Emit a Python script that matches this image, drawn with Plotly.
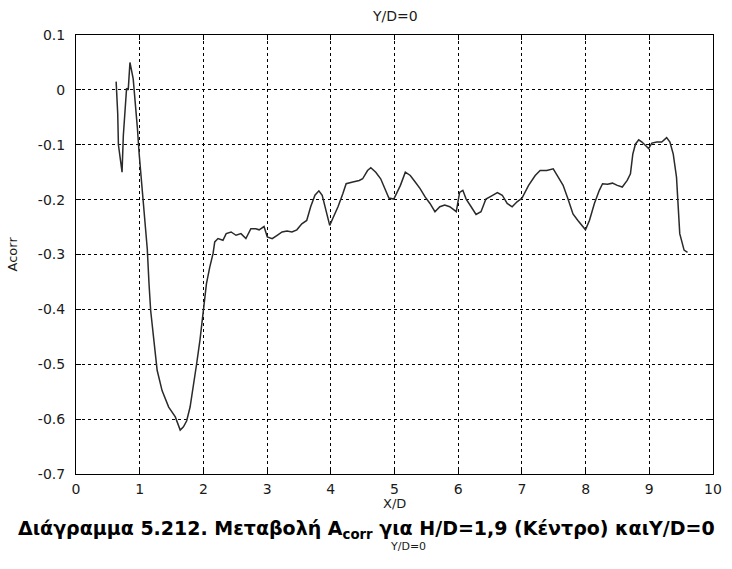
import plotly.graph_objects as go

# Measured correlation coefficient along the centreline (Y/D = 0)
x_d = [0.63, 0.655, 0.666, 0.723, 0.743, 0.785, 0.794, 0.82, 0.847, 0.898, 0.94, 0.964,
       0.991, 1.042, 1.084, 1.119, 1.146, 1.172, 1.223, 1.274, 1.351, 1.455, 1.559,
       1.636, 1.687, 1.738, 1.791, 1.842, 1.893, 1.946, 1.997, 2.048, 2.10, 2.152,
       2.178, 2.229, 2.307, 2.358, 2.435, 2.512, 2.59, 2.667, 2.745, 2.822, 2.875,
       2.952, 3.003, 3.08, 3.158, 3.235, 3.313, 3.39, 3.467, 3.545, 3.622, 3.684,
       3.751, 3.813, 3.865, 3.906, 3.958, 3.983, 4.036, 4.113, 4.19, 4.241, 4.345,
       4.447, 4.5, 4.577, 4.628, 4.706, 4.783, 4.861, 4.912, 4.989, 5.042, 5.093,
       5.17, 5.248, 5.325, 5.402, 5.48, 5.557, 5.635, 5.712, 5.789, 5.867, 5.97,
       6.022, 6.073, 6.125, 6.203, 6.28, 6.358, 6.435, 6.512, 6.615, 6.692, 6.769,
       6.847, 6.924, 7.002, 7.105, 7.209, 7.286, 7.389, 7.492, 7.57, 7.647, 7.724,
       7.802, 7.879, 7.957, 7.998, 8.06, 8.138, 8.215, 8.266, 8.344, 8.421, 8.498,
       8.576, 8.653, 8.704, 8.741, 8.782, 8.834, 8.885, 8.937, 8.989, 9.04, 9.118,
       9.195, 9.272, 9.324, 9.376, 9.427, 9.454, 9.478, 9.546, 9.6]
a_corr = [0.015, -0.043, -0.10, -0.15, -0.083, -0.025, 0.003, 0.0, 0.05, 0.02, -0.03, -0.07,
          -0.116, -0.19, -0.238, -0.29, -0.353, -0.402, -0.457, -0.511, -0.548, -0.578, -0.596,
          -0.62, -0.614, -0.603, -0.578, -0.542, -0.50, -0.456, -0.402, -0.353, -0.323, -0.298,
          -0.277, -0.271, -0.274, -0.262, -0.259, -0.265, -0.262, -0.271, -0.253, -0.253, -0.255,
          -0.249, -0.268, -0.271, -0.265, -0.259, -0.257, -0.259, -0.255, -0.244, -0.238, -0.213,
          -0.192, -0.184, -0.192, -0.213, -0.238, -0.247, -0.233, -0.213, -0.189, -0.171, -0.168,
          -0.165, -0.162, -0.147, -0.142, -0.15, -0.162, -0.183, -0.197, -0.199, -0.187, -0.174,
          -0.15, -0.156, -0.168, -0.18, -0.195, -0.207, -0.222, -0.213, -0.21, -0.213, -0.222,
          -0.187, -0.183, -0.199, -0.213, -0.227, -0.222, -0.199, -0.194, -0.187, -0.192, -0.207,
          -0.213, -0.204, -0.197, -0.174, -0.156, -0.147, -0.147, -0.144, -0.159, -0.174, -0.199,
          -0.226, -0.238, -0.25, -0.255, -0.238, -0.207, -0.183, -0.171, -0.172, -0.17, -0.174,
          -0.177, -0.165, -0.153, -0.117, -0.099, -0.091, -0.095, -0.101, -0.107, -0.097, -0.095,
          -0.095, -0.087, -0.095, -0.117, -0.159, -0.207, -0.262, -0.292, -0.296]

x_ticks = [0, 1, 2, 3, 4, 5, 6, 7, 8, 9, 10]
y_ticks = [0.1, 0, -0.1, -0.2, -0.3, -0.4, -0.5, -0.6, -0.7]
y_tick_text = ["0.1", "0", "-0.1", "-0.2", "-0.3", "-0.4", "-0.5", "-0.6", "-0.7"]

title_text = "Y/D=0"
x_label = "X/D"
y_label = "Acorr"
caption = "Διάγραμμα 5.212. Μεταβολή A<sub>corr</sub> για H/D=1,9 (Κέντρο) καιY/D=0"
sub_caption = "Y/D=0"

font_family = "DejaVu Sans, Liberation Sans, Arial, sans-serif"
ink = "#1a1a1a"

fig = go.Figure()
fig.add_trace(go.Scatter(
    x=x_d, y=a_corr, mode="lines",
    line=dict(color="#2a2a2a", width=1.5),
    showlegend=False, hoverinfo="skip",
))

axis_common = dict(
    showline=True, linecolor="black", linewidth=1, mirror="ticks",
    ticks="inside", ticklen=5, tickcolor="black",
    showgrid=True, gridcolor="black", gridwidth=1, griddash="3px,3px",
    zeroline=False,
    tickfont=dict(family=font_family, size=14, color=ink),
)

fig.update_xaxes(range=[0, 10], tickvals=x_ticks, ticktext=[str(t) for t in x_ticks],
                 ticklabelstandoff=2, **axis_common)
fig.update_yaxes(range=[-0.7, 0.1], tickvals=y_ticks, ticktext=y_tick_text,
                 ticklabelstandoff=7, **axis_common)

fig.update_layout(
    width=732, height=569,
    margin=dict(l=76, r=10, t=35, b=95),
    paper_bgcolor="white", plot_bgcolor="white",
    font=dict(family=font_family, color=ink),
    annotations=[
        dict(text=title_text, xref="paper", yref="paper", x=0.5, y=1.0, yshift=9,
             xanchor="center", yanchor="bottom", showarrow=False,
             font=dict(family=font_family, size=14, color=ink)),
        dict(text=x_label, xref="paper", yref="paper", x=0.5, y=0, yshift=-29,
             xanchor="center", yanchor="middle", showarrow=False,
             font=dict(family=font_family, size=13, color=ink)),
        dict(text=y_label, xref="paper", yref="paper", x=0, xshift=-64, y=0.5,
             xanchor="center", yanchor="middle", textangle=-90, showarrow=False,
             font=dict(family=font_family, size=13, color=ink)),
        dict(text="<b>" + caption + "</b>", xref="paper", yref="paper",
             x=0, xshift=-60, y=0, yshift=-41, xanchor="left", yanchor="top",
             showarrow=False, font=dict(family=font_family, size=19, color="black")),
        dict(text=sub_caption, xref="paper", yref="paper", x=0.5, xshift=13,
             y=0, yshift=-72, xanchor="center", yanchor="middle", showarrow=False,
             font=dict(family=font_family, size=11, color=ink)),
    ],
)

fig.write_html("out.html")
